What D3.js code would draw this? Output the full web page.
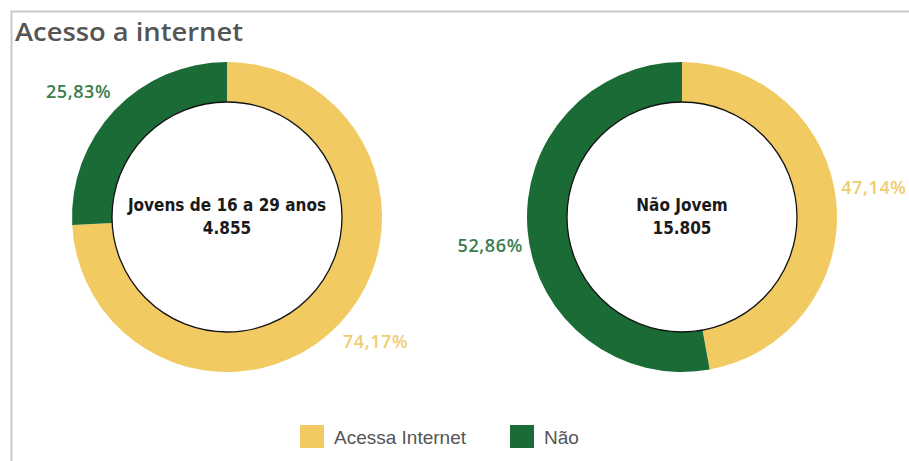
<!DOCTYPE html>
<html><head><meta charset="utf-8">
<script src="https://cdn.jsdelivr.net/npm/d3@7"></script>
<style>
html,body{margin:0;padding:0;background:#fff;}
svg{display:block;}
</style></head>
<body>
<svg id="chart" width="909" height="461"></svg>
<script>
const categories = ["Acessa Internet", "Não"];
const groups = ["Jovens de 16 a 29 anos", "Não Jovem"];
const totals = ["4.855", "15.805"];
const jovensValues = [74.17, 25.83];
const naoJovemValues = [47.14, 52.86];
const colors = ["#f2ca62", "#1a6b35"];
const labelColors = ["#f0cc72", "#3a7d4d"];

const svg = d3.select("#chart");
const W = 909, H = 461;

// frame
svg.append("path")
  .attr("d", `M11.5,${H} V11.5 H${W}`)
  .attr("fill", "none").attr("stroke", "#c9c9c9").attr("stroke-width", 2);

svg.append("text")
  .attr("x", 15).attr("y", 41)
  .attr("font-family", "'Open Sans', 'DejaVu Sans', sans-serif")
  .attr("font-size", 25.5).attr("font-weight", 600)
  .attr("textLength", 228).attr("lengthAdjust", "spacingAndGlyphs")
  .attr("fill", "#555")
  .text("Acesso a internet");

const color = d3.scaleOrdinal().domain(categories).range(colors);
const lcolor = d3.scaleOrdinal().domain(categories).range(labelColors);
const xPos = d3.scalePoint().domain(groups).range([227, 682]);
const outerR = 155, innerR = 115, labelR = 194, labelShift = -0.06;
const pie = d3.pie().sort(null).value(d => d.value);
const arc = d3.arc().innerRadius(innerR).outerRadius(outerR);
const fmt = v => v.toFixed(2).replace(".", ",") + "%";

const datasets = [jovensValues, naoJovemValues];
groups.forEach((g, i) => {
  const data = categories.map((c, j) => ({cat: c, value: datasets[i][j]}));
  const gg = svg.append("g").attr("transform", `translate(${xPos(g)},217)`);
  const arcs = pie(data);
  gg.selectAll("path.slice").data(arcs).join("path")
    .attr("class", "slice")
    .attr("d", arc).attr("fill", d => color(d.data.cat));
  gg.append("circle").attr("r", innerR).attr("fill", "#fff")
    .attr("stroke", "#111").attr("stroke-width", 1.3);
  gg.selectAll("text.pct").data(arcs).join("text")
    .attr("class", "pct")
    .attr("transform", d => {
      const a = (d.startAngle + d.endAngle) / 2 + labelShift;
      return `translate(${labelR * Math.sin(a)},${-labelR * Math.cos(a)})`;
    })
    .attr("text-anchor", "middle").attr("dy", "0.35em")
    .attr("font-family", "'Open Sans', 'DejaVu Sans', sans-serif")
    .attr("font-size", 18).attr("font-weight", 600).attr("letter-spacing", 0.6)
    .attr("fill", d => lcolor(d.data.cat))
    .text(d => fmt(d.data.value));
  const t = gg.append("text").attr("text-anchor", "middle")
    .attr("font-family", "'Liberation Sans Narrow', 'DejaVu Sans Condensed', sans-serif")
    .attr("font-size", 17).attr("font-weight", 700).attr("fill", "#1a1a1a");
  t.append("tspan").attr("x", 0).attr("y", -6).text(g);
  t.append("tspan").attr("x", 0).attr("y", 17).text(totals[i]);
});

// legend
const legX = d3.scaleOrdinal().domain(categories).range([300, 510]);
const leg = svg.selectAll("g.leg").data(categories).join("g")
  .attr("class", "leg").attr("transform", d => `translate(${legX(d)},425)`);
leg.append("rect").attr("width", 24).attr("height", 23).attr("fill", d => color(d));
leg.append("text").attr("x", 34).attr("y", 12).attr("dy", "0.35em")
  .attr("font-family", "'Liberation Sans', Arial, sans-serif")
  .attr("font-size", 19).attr("fill", "#555").text(d => d);
</script>
</body></html>
